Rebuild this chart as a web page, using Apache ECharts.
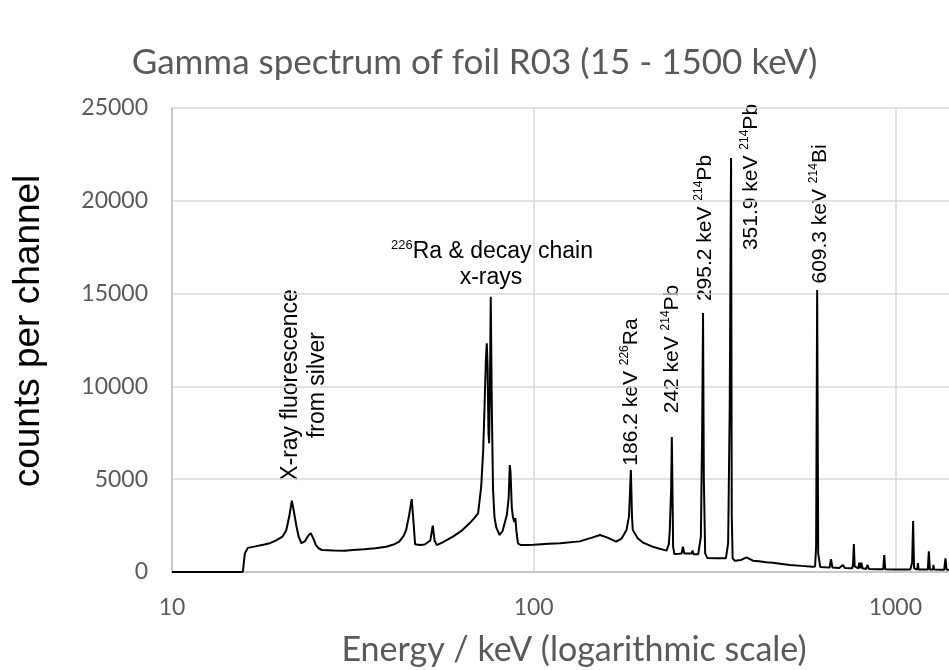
<!DOCTYPE html>
<html><head><meta charset="utf-8">
<script src="https://cdn.jsdelivr.net/npm/echarts@6/dist/echarts.min.js"></script>
<style>html,body{margin:0;padding:0;background:#fff}#c{width:949px;height:670px}</style>
</head><body><div id="c"></div>
<script>
// Energy (keV) and counts per channel
const energyKeV = [
  10, 15.7, 15.9, 16.2, 17.0, 18.0, 18.6, 19.4, 20.2, 20.7, 21.1, 21.45, 21.8, 22.1, 22.4, 22.8,
  23.3, 23.8, 24.2, 24.6, 25.0, 25.4, 26.0, 28.0, 30.0, 31.6, 34.0, 36.5, 39.1, 41.0, 42.5, 43.7,
  44.4, 45.2, 46.0, 46.5, 47.0, 47.5, 48.5, 50.0, 51.8, 52.6, 53.2, 54.0, 56.0, 59.8, 63.0, 66.5,
  68.5, 70.2, 71.6, 72.5, 73.1, 73.8, 74.2, 74.6, 75.0, 75.3, 75.7, 76.1, 76.6, 77.2, 77.9, 78.8,
  80.5, 82.0, 83.3, 84.3, 85.3, 85.9, 86.3, 87.0, 87.6, 88.4, 89.0, 89.6, 90.5, 92.0, 96.0, 100,
  110, 118.5, 134, 145, 152.6, 160, 169, 175, 180.6, 183.5, 185.7, 187, 188, 194, 200, 213,
  223, 233, 236.5, 237.9, 240, 241, 242.5, 243, 245, 252, 256.5, 258.7, 261, 270, 273.5, 275,
  277, 285, 288, 290, 292.5, 294, 295.5, 298, 302, 320, 340, 345, 348.5, 351.4, 353, 355,
  360, 375, 387.6, 390, 404, 420, 440, 459, 480, 511, 550, 591, 600, 604, 608, 612,
  620, 640, 658, 664, 670, 700, 716, 725, 760, 764, 768, 772, 790, 795, 800, 806,
  811, 830, 838, 845, 900, 926, 932, 938, 1000, 1100, 1113, 1120, 1127, 1150, 1155, 1160,
  1230, 1238, 1246, 1270, 1275, 1280, 1365, 1376, 1386, 1500
];
const countsPerChannel = [
  0, 0, 1000, 1300, 1380, 1480, 1546, 1700, 1900, 2250, 3000, 3840, 3100, 2440, 1900, 1550,
  1650, 1950, 2085, 1800, 1450, 1280, 1185, 1160, 1150, 1185, 1220, 1280, 1365, 1480, 1634, 1950,
  2263, 3000, 3930, 2800, 1500, 1455, 1455, 1480, 1700, 2495, 1700, 1450, 1600, 1903, 2200, 2624,
  2900, 3163, 4596, 6500, 8729, 11500, 12322, 11000, 7500, 6934, 10000, 14834, 9000, 4500, 2980, 2400,
  1994, 2200, 2700, 3071, 4000, 5765, 5400, 3500, 2980, 2700, 2900, 2200, 1546, 1455, 1455, 1470,
  1520, 1546, 1650, 1850, 1994, 1850, 1634, 1800, 2263, 3000, 5496, 3000, 2263, 1816, 1600, 1365,
  1250, 1150, 1500, 2263, 4500, 7274, 3000, 1365, 970, 980, 1000, 1365, 1000, 1000, 1000, 1150,
  950, 950, 1006, 1904, 8000, 13955, 5000, 1006, 760, 737, 737, 1560, 9000, 22306, 3000, 737,
  600, 650, 791, 684, 609, 580, 530, 501, 450, 377, 330, 286, 300, 1365, 15194, 1000,
  270, 250, 240, 690, 240, 220, 380, 220, 200, 400, 1500, 300, 200, 500, 200, 500,
  200, 160, 380, 160, 150, 150, 916, 150, 130, 130, 500, 2740, 200, 130, 485, 130,
  130, 1110, 130, 130, 385, 130, 120, 737, 120, 120
];
const titleText = 'Gamma spectrum of foil R03 (15 - 1500 keV)';
const xAxisTitle = 'Energy / keV (logarithmic scale)';
const yAxisTitle = 'counts per channel';
const yMin = 0, yMax = 25000, yStep = 5000;
const xMin = 10, xMax = 1500;

const chart = echarts.init(document.getElementById('c'), null, {renderer: 'canvas'});
const seriesData = energyKeV.map((e, i) => [e, countsPerChannel[i]]);
const annFont = 'Arial, "Liberation Sans", sans-serif';
function mkRich(size, lh) {
  return {
    s: {fontSize: Math.round(size * 0.58), fontFamily: annFont, fill: '#000', lineHeight: Math.round(size * 0.58), verticalAlign: 'top'},
    m: {fontSize: size, fontFamily: annFont, fill: '#000', lineHeight: lh}
  };
}
function ann(x, y, text, rot, size, lh) {
  size = size || 21;
  lh = lh || size + 3;
  return {type: 'text', x: x, y: y, rotation: rot ? Math.PI / 2 : 0, silent: true,
    style: {text: text, rich: mkRich(size, lh), fontSize: size, fontFamily: annFont, fill: '#000',
      align: 'center', verticalAlign: 'middle', lineHeight: lh}};
}
chart.setOption({
  animation: false,
  backgroundColor: '#fff',
  title: {text: titleText, left: 'center', top: 40,
    textStyle: {fontFamily: 'Lato', fontWeight: 'normal', fontSize: 35, color: '#595959'}},
  grid: {left: 172, top: 108, bottom: 98, width: 787, containLabel: false, outerBoundsMode: 'none'},
  xAxis: {type: 'log', logBase: 10, min: xMin, max: xMax,
    axisLine: {show: true, lineStyle: {color: '#bfbfbf', width: 1.5}},
    axisTick: {show: false},
    axisLabel: {color: '#595959', fontFamily: 'Lato', fontSize: 23, margin: 24, showMaxLabel: false,
      formatter: v => String(Math.round(v))},
    splitLine: {show: true, lineStyle: {color: '#d9d9d9', width: 1.5}}},
  yAxis: {type: 'value', min: yMin, max: yMax, interval: yStep,
    axisLine: {show: true, lineStyle: {color: '#bfbfbf', width: 1.5}},
    axisTick: {show: false},
    axisLabel: {color: '#595959', fontFamily: 'Lato', fontSize: 23, margin: 24,
      formatter: v => String(v)},
    splitLine: {show: true, lineStyle: {color: '#d9d9d9', width: 1.5}}},
  series: [{type: 'line', data: seriesData, showSymbol: false, symbol: 'none',
    lineStyle: {color: '#000', width: 2}, z: 5}],
  graphic: [
    {type: 'text', x: 574, y: 650, silent: true,
      style: {text: xAxisTitle, fontFamily: 'Lato', fontSize: 34, fill: '#595959', align: 'center', verticalAlign: 'middle'}},
    {type: 'text', x: 29, y: 331, rotation: Math.PI / 2, silent: true,
      style: {text: yAxisTitle, fontFamily: annFont, fontSize: 37, fill: '#000', align: 'center', verticalAlign: 'middle'}},
    ann(304, 385, 'X-ray fluorescence\nfrom silver', true, 23, 27),
    ann(492, 252, '{s|226}{m|Ra & decay chain}', false, 23),
    ann(491, 278, 'x-rays', false, 23),
    ann(631, 392, '{m|186.2 keV }{s|226}{m|Ra}', true),
    ann(672, 349, '{m|242 keV }{s|214}{m|Pb}', true),
    ann(705, 228, '{m|295.2 keV }{s|214}{m|Pb}', true),
    ann(751, 177, '{m|351.9 keV }{s|214}{m|Pb}', true),
    ann(820, 214, '{m|609.3 keV }{s|214}{m|Bi}', true)
  ]
});
</script></body></html>
